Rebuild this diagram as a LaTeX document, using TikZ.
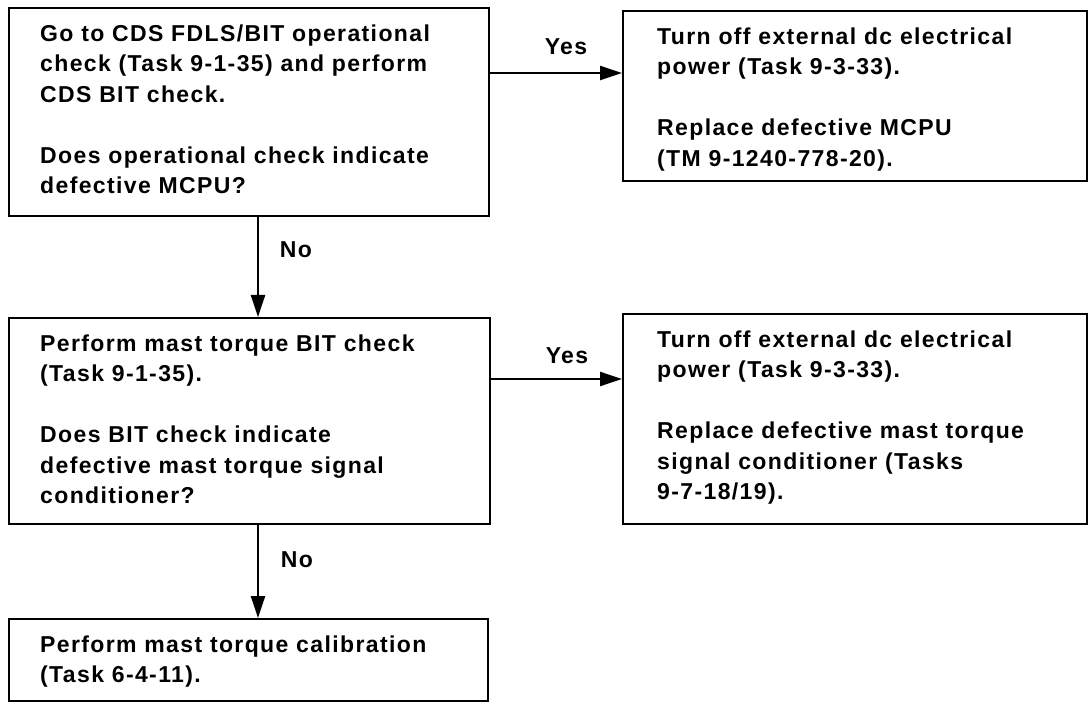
\documentclass[tikz,border=0pt]{standalone}
\usepackage{fontspec}
\setmainfont{Liberation Sans}[LetterSpace=6, UprightFont=* Bold]
\usetikzlibrary{arrows.meta}
\begin{document}
\begin{tikzpicture}[x=1pt,y=-1pt,
  box/.style={draw, line width=2.4pt, anchor=north west, inner sep=0pt},
  txt/.style={anchor=north west, inner sep=0pt, align=left, font=\fontsize{23}{30.5}\selectfont},
  lbl/.style={inner sep=0pt, font=\fontsize{23}{26}\selectfont},
  arr/.style={line width=2.4pt, -{Triangle[length=22pt,width=14pt]}}]
\useasboundingbox (0,0) rectangle (1088,703);
% boxes
\node[box, minimum width=480pt, minimum height=208pt] (A) at (8,7) {};
\node[box, minimum width=464pt, minimum height=170pt] (B) at (622,10) {};
\node[box, minimum width=481pt, minimum height=206pt] (C) at (8,317) {};
\node[box, minimum width=464pt, minimum height=210pt] (E) at (622,313) {};
\node[box, minimum width=479pt, minimum height=82pt] (D) at (8,618) {};
% texts
\node[txt] (tA) at (40,24) {\rule{0pt}{17pt}Go to CDS FDLS/BIT operational\\check (Task 9-1-35) and perform\\CDS BIT check.\\[30.5pt]Does operational check indicate\\defective MCPU?};
\node[txt] (tB) at (657,27) {\rule{0pt}{17pt}Turn off external dc electrical\\power (Task 9-3-33).\\[30.5pt]Replace defective MCPU\\(TM 9-1240-778-20).};
\node[txt] (tC) at (40,334) {\rule{0pt}{17pt}Perform mast torque BIT check\\(Task 9-1-35).\\[30.5pt]Does BIT check indicate\\defective mast torque signal\\conditioner?};
\node[txt] (tE) at (657,330) {\rule{0pt}{17pt}Turn off external dc electrical\\power (Task 9-3-33).\\[30.5pt]Replace defective mast torque\\signal conditioner (Tasks\\9-7-18/19).};
\node[txt] (tD) at (40,635) {\rule{0pt}{17pt}Perform mast torque calibration\\(Task 6-4-11).};
% connectors
\coordinate (y1) at (0,73);
\coordinate (y2) at (0,379);
\coordinate (x1) at (258,0);
\draw[arr] (A.east |- y1) -- (B.west |- y1);
\draw[arr] (C.east |- y2) -- (E.west |- y2);
\draw[arr] (A.south -| x1) -- (C.north -| x1);
\draw[arr] (C.south -| x1) -- (D.north -| x1);
% labels
\node[lbl] (l1) at (566,47) {Yes};
\node[lbl] (l2) at (567,356) {Yes};
\node[lbl] (l3) at (296,250) {No};
\node[lbl] (l4) at (297,560) {No};
\end{tikzpicture}
\end{document}
